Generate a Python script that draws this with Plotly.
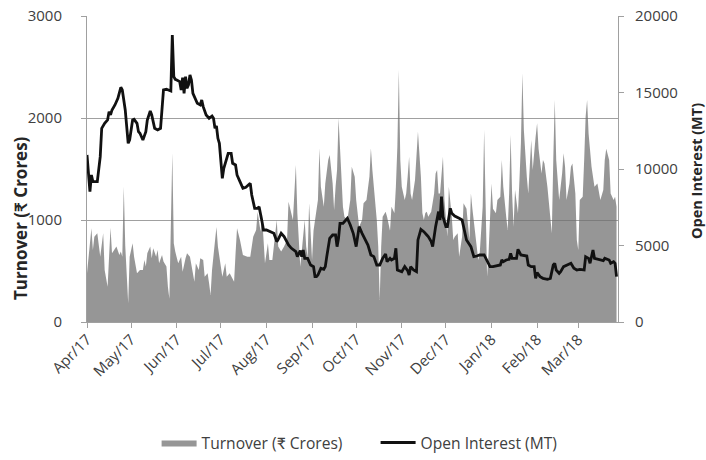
import pandas as pd
import plotly.graph_objects as go

# day offsets from 1 Apr 2017
turnover_day = [0, 3, 4, 5, 7, 9, 11, 12, 14, 15, 16, 17, 19, 20, 22, 23, 24, 25, 26, 27, 28, 29, 31, 32, 33, 34,
                36, 38, 39, 40, 41, 43, 44, 45, 47, 48, 49, 51, 52, 54, 55, 56, 58, 59, 60, 62, 64, 65, 67, 68,
                70, 72, 73, 74, 76, 77, 79, 80, 82, 83, 84, 85, 86, 88, 89, 91, 92, 94, 95, 97, 98, 100, 101, 102,
                104, 105, 106, 109, 111, 113, 115, 116, 118, 119, 121, 123, 124, 126, 127, 129, 130, 132, 134, 136,
                137, 139, 140, 142, 143, 145, 146, 148, 149, 150, 151, 152, 153, 154, 155, 157, 158, 159, 161, 162,
                164, 165, 167, 168, 169, 170, 171, 173, 174, 175, 177, 179, 180, 182, 183, 185, 187, 188, 190, 192,
                193, 194, 196, 197, 198, 199, 200, 201, 203, 204, 206, 207, 209, 210, 211, 212, 213, 214, 216, 217,
                218, 219, 220, 221, 223, 224, 225, 227, 228, 229, 230, 231, 232, 234, 236, 237, 238, 239, 240, 242,
                243, 245, 246, 248, 249, 250, 252, 253, 255, 256, 258, 260, 261, 262, 264, 265, 266, 267, 269, 270,
                271, 272, 273, 275, 276, 278, 279, 281, 282, 283, 285, 286, 287, 288, 289, 290, 291, 293, 294, 295,
                296, 297, 299, 300, 302, 303, 305, 306, 307, 309, 310, 311, 313, 314, 315, 316, 317, 318, 319, 320,
                321, 323, 324, 325, 326, 328, 329, 330, 332, 333, 334, 335, 337, 338, 339, 340, 341, 343, 344, 345,
                347, 348, 349, 351, 352, 353, 355, 356, 358, 359, 360]
turnover = [477, 918, 706, 836, 869, 640, 869, 510, 346, 706, 925, 673, 722, 739, 657, 690, 640, 1327, 750, 412, 183,
            640, 771, 640, 575, 477,
            510, 510, 608, 543, 673, 739, 624, 722, 640, 706, 575, 657, 592, 543, 346, 229, 1654, 771, 690, 575,
            640, 493, 624, 673,
            640, 444, 395, 575, 510, 624, 608, 444, 477, 379, 265, 510, 673, 931, 739, 510, 444, 575, 444, 477, 444,
            395, 673, 918,
            804, 706, 657, 640, 640, 836, 902, 1078, 886, 1050, 575, 771, 608, 608, 739, 1000, 739, 690, 739, 804,
            1180, 1069, 1000, 1539, 1069, 542, 673, 1000, 739, 634, 1163, 895, 608, 895, 1000, 1196, 1703, 1327,
            1131, 1359,
            1588, 1637, 1359, 1098, 1327, 1490, 1997, 1359, 1131, 1033, 1000, 1196, 1523, 1425, 1196, 935, 1000,
            1163, 1196, 1425,
            1703, 1490, 1196, 1000, 739, 216, 739, 1033, 1082, 1033, 895, 1131, 1069, 1327, 1719, 2471, 1588, 1327,
            1196, 1261,
            1425, 1621, 1261, 1196, 1392, 1621, 1866, 1425, 1069, 1000, 1069, 1082, 1033, 1082, 1261, 1457, 1490,
            1261, 1261, 1621,
            1196, 836, 1327, 1033, 804, 836, 869, 640, 836, 1163, 1111, 804, 1261, 1111, 869, 738, 608, 673, 1131,
            1882,
            1065, 444, 673, 1359, 1111, 1065, 1196, 1229, 1588, 1327, 1033, 902, 1261, 1833, 1261, 935, 1294, 1065,
            1392, 1752,
            2438, 1882, 1425, 1261, 1784, 1490, 1817, 1948, 1699, 1457, 1588, 1555, 1327, 1163, 1033, 869, 1588,
            2176, 1588, 1359,
            1196, 1457, 1654, 1523, 1196, 1359, 1523, 1555, 1261, 804, 706, 1196, 1229, 1588, 2013, 2176, 1849,
            1523, 1392, 1327,
            1359, 1261, 1196, 1294, 1588, 1699, 1588, 1261, 1196, 1229, 1131]

oi_day = [0, 1, 2, 3, 4, 7, 9, 10, 12, 14, 15, 16, 17, 19, 21, 23, 24, 26, 28, 29, 31, 32, 34, 35, 36, 38, 40, 41,
          43, 44, 46, 48, 50, 52, 54, 57, 58, 59, 60, 61, 63, 64, 65, 66, 67, 68, 69, 70, 71, 72, 74, 75, 77, 78,
          79, 81, 83, 85, 86, 87, 88, 89, 90, 91, 92, 93, 94, 96, 98, 99, 101, 102, 104, 106, 108, 110, 111, 112,
          114, 116, 117, 119, 120, 122, 125, 127, 128, 129, 130, 132, 134, 135, 137, 139, 142, 143, 145, 146, 147,
          148, 150, 152, 154, 155, 156, 157, 159, 161, 162, 163, 165, 167, 169, 170, 171, 172, 174, 176, 177, 179,
          181, 183, 185, 187, 189, 191, 193, 195, 197, 199, 201, 203, 204, 206, 207, 209, 210, 211, 214, 216, 218,
          219, 220, 222, 224, 225, 227, 229, 231, 232, 234, 235, 237, 238, 239, 240, 241, 242, 244, 245, 247, 248,
          250, 253, 255, 256, 258, 261, 263, 265, 267, 270, 272, 274, 276, 279, 281, 282, 283, 285, 287, 288, 289,
          292, 293, 295, 299, 300, 302, 304, 305, 306, 308, 310, 313, 315, 317, 318, 319, 321, 322, 324, 325, 327,
          329, 331, 333, 335, 338, 339, 341, 342, 344, 345, 347, 349, 351, 352, 355, 356, 358, 359, 360]
open_interest = [10917, 9718, 8520, 9610, 9174, 9174, 10808, 12660, 12987, 13205, 13750, 13532, 13858, 14185, 14621,
                 15340, 15166, 13858, 11680, 11897, 13205, 13248, 12987, 12442, 12333, 11897, 12442, 13205,
                 13793, 13532, 12660, 12551, 12660, 15166, 15209, 15100, 18762, 16037, 15863, 15819, 15711, 15166,
                 15972, 14948, 16037, 15275, 15493, 16146, 15819, 14948, 14512, 14294, 14185, 14512,
                 14076, 13532, 13314, 13466, 13314, 12660, 12813, 12006, 11680, 10154, 9392, 10045, 10372, 11026,
                 11026, 10372, 10263, 9610, 9174, 8738, 8803, 8956, 9065, 8302,
                 7430, 7430, 7539, 6559, 6014, 6014, 5905, 5796, 5535, 5251, 5404, 5796, 5578, 5360, 5033, 4816,
                 4598, 4271, 4663, 4271, 4707,
                 4162, 4162, 3726, 3617, 2963, 2963, 3072, 3508, 3443, 3617, 4271, 5469, 5687, 5687, 4925, 5469,
                 6450, 6450, 6668, 6777, 6341,
                 5796, 4925, 6232, 5796, 5360, 5033, 4380, 4271, 3726, 3726, 4162, 4445, 3944, 4162, 4053, 4162,
                 4816, 3399, 3290, 3617, 3356,
                 3072, 3617, 3399, 3290, 5360, 6058, 5905, 5687, 5578, 5251, 4925, 6232, 6886, 7213, 6668, 8193,
                 6886, 6232, 6232, 7430, 7104,
                 6929, 6777, 6668, 6232, 5360, 4925, 4271, 4314, 4380, 4380, 3944, 3617, 3617, 3661, 3726, 4053,
                 3944, 4053, 4096, 4489, 4162,
                 4162, 4750, 4380, 4314, 3726, 3617, 3617, 2855, 3225, 2963, 2855, 2789, 2855, 3726, 3835, 3399,
                 3181, 3290, 3617, 3661, 3726,
                 3835, 3508, 3399, 3443, 3399, 4271, 4162, 3835, 4707, 4162, 4096, 4053, 4010, 4162, 4053, 3835,
                 3944, 3835, 2963]

left_title = "Turnover (₹ Crores)"
right_title = "Open Interest (MT)"

start = pd.Timestamp("2017-04-01")
t_dates = start + pd.to_timedelta(turnover_day, unit="D")
o_dates = start + pd.to_timedelta(oi_day, unit="D")

month_ticks = pd.date_range("2017-04-01", "2018-03-01", freq="MS")
month_labels = [d.strftime("%b/%y") for d in month_ticks]

FONT = "'Open Sans', Lato, sans-serif"
TXT = "#404040"
AX = "#A0A0A0"

PL, PT, PW, PH = 87, 16, 531, 306  # plot area in px

fig = go.Figure()
fig.add_trace(go.Scatter(
    x=t_dates, y=turnover, name=left_title, mode="lines",
    line=dict(width=0, color="rgba(110,110,110,0.72)"),
    fill="tozeroy", fillcolor="rgba(110,110,110,0.72)", yaxis="y"))
fig.add_trace(go.Scatter(
    x=o_dates, y=open_interest, name=right_title, mode="lines",
    line=dict(width=2.8, color="#111111"), yaxis="y2"))

fig.update_layout(
    width=706, height=460,
    margin=dict(l=PL, r=706 - PL - PW, t=PT, b=460 - PT - PH, autoexpand=False),
    paper_bgcolor="white", plot_bgcolor="white",
    font=dict(family=FONT, size=15, color=TXT),
    showlegend=True,
    legend=dict(orientation="h", x=0.5435, xanchor="center", y=-0.395, yanchor="middle",
                font=dict(size=15.6, color=TXT), itemwidth=35,
                entrywidthmode="pixels", entrywidth=169),
    xaxis=dict(
        type="date", range=[start, start + pd.Timedelta(days=361)],
        tickvals=month_ticks, ticktext=month_labels, tickangle=-45,
        showgrid=False, showline=True, linecolor=AX, linewidth=1,
        ticks="outside", ticklen=5, tickcolor=AX, automargin=False, ticklabelstandoff=-3,
        ticklabeloverflow="allow",
        tickfont=dict(size=15, color=TXT), zeroline=False),
    yaxis=dict(
        range=[0, 3000], tickvals=[0, 1000, 2000, 3000], tickformat="d",
        showgrid=True, gridcolor=AX, gridwidth=1, automargin=False, ticklabelstandoff=16,
        ticklabeloverflow="allow",
        showline=True, linecolor=AX, ticks="outside", ticklen=5, tickcolor=AX,
        tickfont=dict(size=15, color=TXT), zeroline=False),
    yaxis2=dict(
        range=[0, 20000], tickvals=[0, 5000, 10000, 15000, 20000], tickformat="d",
        overlaying="y", side="right", automargin=False, ticklabelstandoff=8,
        ticklabeloverflow="allow",
        showgrid=False, showline=True, linecolor=AX, ticks="outside", ticklen=5, tickcolor=AX,
        tickfont=dict(size=15, color=TXT), zeroline=False),
    annotations=[
        dict(text="<b>" + left_title + "</b>", xref="paper", yref="paper",
             x=(20 - PL) / PW, y=(PT + PH - 218) / PH, xanchor="center", yanchor="middle",
             textangle=-90, showarrow=False, font=dict(size=17, color="#262626")),
        dict(text="<b>" + right_title + "</b>", xref="paper", yref="paper",
             x=(696 - PL) / PW, y=(PT + PH - 171) / PH, xanchor="center", yanchor="middle",
             textangle=-90, showarrow=False, font=dict(size=14.5, color="#262626")),
    ],
)

fig.write_html("out.html", config={"displayModeBar": False},
               post_script="document.body.style.margin='0';document.body.style.overflow='hidden';")
